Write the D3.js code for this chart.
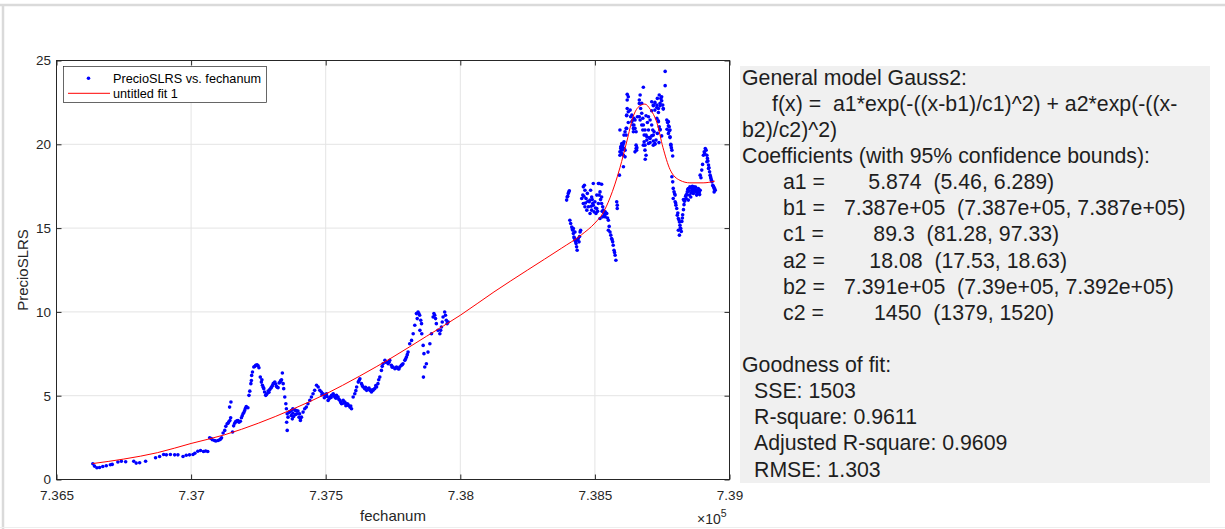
<!DOCTYPE html>
<html><head><meta charset="utf-8">
<script src="https://cdn.jsdelivr.net/npm/d3@7"></script>
<style>
html,body{margin:0;padding:0;background:#fff;}
svg{display:block;font-family:"Liberation Sans",Arial,Helvetica,sans-serif;}
</style></head><body>
<svg id="chart" width="1225" height="529"></svg>
<script>
// ---------------- data ----------------
const xTickValues = [736500, 737000, 737500, 738000, 738500, 739000];
const xTickLabels = ["7.365", "7.37", "7.375", "7.38", "7.385", "7.39"];
const yTickValues = [0, 5, 10, 15, 20, 25];
const yTickLabels = ["0", "5", "10", "15", "20", "25"];

const fechanum = [
  // early, sparse
  736635,736641,736650,736660,736672,736685,736700,736707,736728,736741,
  736757,736787,736796,736809,736831,736868,736883,736898,736908,736923,
  736939,736951,736970,736982,736994,737007,737014,737025,737035,737046,
  737054,737062,
  // first rise
  737069,737079,737087,737100,737106,737113,737119,737125,737129,737134,
  737137,737144,737147,737143,737148,737154,737162,737168,737174,737178,
  737183,737187,737193,737199,737205,737211,737215,737218,737222,737224,
  737225,737228,737233,737240,737249,737252,
  // plateau + drop
  737257,737261,737265,737270,737273,737277,737282,737286,737292,737299,
  737305,737311,737317,737323,737327,737332,737336,737339,737342,737344,
  737348,737352,737354,737357,737360,737355,737357,
  // recovery
  737366,737372,737376,737378,737381,737385,737388,737391,737397,737403,
  737406,737410,737416,737422,737428,737434,737441,737447,737453,737459,
  737466,737472,
  // 7.375 - 7.3795
  737478,737484,737490,737497,737503,737509,737516,737522,737528,737534,
  737540,737546,737553,737559,737565,737571,737578,737584,737590,737596,
  737602,737608,737615,737621,737627,737633,737639,737645,737652,737658,
  737664,737670,737676,737682,737689,737694,737701,737707,737713,737720,
  737726,737732,737738,737744,737750,737757,737763,737769,737775,737781,
  737787,737794,737800,737806,737812,737819,737825,737831,737837,737843,
  737849,737856,737850,737857,737862,737865,737868,737863,737874,737880,
  737887,737893,737899,737905,737911,737917,737924,737930,737936,737942,
  737948,737955,
  // 7.384 - 7.3857
  738395,738397,738401,738405,738407,738410,738414,738418,738420,738420,
  738422,738426,738426,738430,738432,738434,738438,738441,738445,738447,
  738451,738455,738457,738457,738461,738463,738463,738467,738470,738472,
  738476,738479,738482,738482,738484,738488,738488,738492,738494,738494,
  738497,738500,738504,738507,738507,738513,738513,738516,738516,738519,
  738519,738525,738525,738525,738529,738529,738531,738534,738538,738538,
  738544,738550,738550,738556,738559,738562,738566,738568,738571,738575,
  738578,738581,738583,738583,738591,
  // peak
  738593,738596,738600,738600,738603,738606,738608,738612,738593,738616,
  738618,738620,738624,738620,738618,738624,738631,738637,738641,738645,
  738649,738653,738655,738653,738649,738658,738665,738668,738674,738668,
  738674,738678,738683,738680,738686,738690,738687,738680,738690,738695,
  738699,738702,738705,738711,738717,738723,738711,738717,738723,738730,
  738736,738742,738748,738754,738761,738761,738735,738742,738748,738738,
  738767,738773,738776,738779,738782,738786,738789,738768,738786,738789,
  // after peak
  738791,738794,738798,738791,738798,738801,738804,738806,738810,738814,
  738816,738819,738810,738814,738823,738826,738829,738831,738835,738829,
  738839,738843,738847,738853,738860,738863,738868,738872,738876,738881,
  738884,738888,738891,738851,738856,738866,738878,738839,738847,738891,
  738897,738903,738906,738910,738913,738916,738918,738916,738922,738922,
  738926,738928,738931,738935,738938,738941,738943,738947,738943,
  // additional points, peak cloud
  738633,738637,738641,738643,738645,738649,738643,738665,738670,738674,
  738665,738678,738699,738705,738711,738715,738717,738720,738705,738699,
  738693,738711,738717,738723,738730,738732,738736,738742,738739,738745,
  738748,738752,738754,738730,738736,738739,738742,738732,738727,738723,
  738717,738770,738773,738776,738779,738773,738779,738782,738784,738618,
  738624,738620,738593,738596,738600,738603,738606,738608,738600,738606,
  738612,738608,738612,738616,738653,738656,738680,738686,738690,738693,
  738686,738683,
  // additional points, 7.371 - 7.3795
  737364,737372,737378,737388,737393,737401,737406,737486,737495,737505,
  737513,737520,737531,737538,737549,737556,737568,737575,737582,737593,
  737612,737624,737636,737648,737661,737673,737686,737697,737710,737723,
  737735,737747,737760,737772,737784,737797,737803,737840,737846,737853,
  737902,737908,737927,737933,737945,737951,737237,737245,737263,737268,
  737279,737289,737296,737302,737308,737314,737320,737330,737334,737075,
  737092,737110,737140,737158,737165,737171,737190,737196,737202,
  // additional points, 7.384 - 7.3857
  738399,738403,738416,738424,738428,738436,738443,738459,738465,738474,
  738486,738490,738502,738510,738521,738527,738536,738541,738547,738553,
  738564,738573,
  // additional points, after peak
  738796,738800,738808,738812,738817,738821,738825,738833,738837,738841,
  738845,738849,738855,738858,738862,738865,738870,738874,738880,738886,
  738889,738894,738900,738908,738920,738924,738930,738933,738940,738945
];

const precioSLRS = [
  // early, sparse
  0.94,0.80,0.70,0.72,0.78,0.82,0.88,0.90,1.04,1.09,
  1.06,1.09,0.98,1.00,1.09,1.30,1.37,1.49,1.47,1.49,
  1.47,1.47,1.37,1.45,1.47,1.49,1.57,1.69,1.73,1.67,
  1.70,1.67,
  // first rise
  2.49,2.37,2.33,2.33,2.37,2.49,2.77,2.93,3.17,3.33,
  3.36,3.52,3.68,4.32,4.62,2.83,3.36,3.48,3.52,3.42,
  3.48,3.68,3.92,4.12,4.36,4.28,5.02,5.27,5.72,5.91,
  6.21,6.41,6.71,6.81,6.79,6.67,
  // plateau + drop
  6.11,5.81,5.62,5.42,5.22,5.02,5.12,5.28,5.36,5.52,
  5.72,5.81,5.56,5.48,5.76,5.87,5.95,6.35,5.72,5.42,
  4.92,4.52,4.22,3.92,3.72,3.42,2.93,
  // recovery
  4.02,4.12,3.62,4.22,3.76,4.16,3.88,4.12,4.08,3.92,
  3.52,3.72,4.02,4.22,4.32,4.52,4.72,4.92,5.12,5.32,
  5.62,5.52,
  // 7.375 - 7.3795
  5.32,5.22,5.12,5.02,5.12,4.72,4.92,5.02,5.12,4.92,
  5.02,4.92,4.72,4.52,4.72,4.62,4.52,4.42,4.32,4.22,
  4.92,5.12,5.52,5.81,6.01,5.72,5.52,5.42,5.32,5.42,
  5.32,5.22,5.32,5.42,5.52,5.72,6.11,6.51,6.91,7.11,
  7.01,6.91,7.11,6.81,6.71,6.61,6.71,6.61,6.71,6.81,
  6.91,7.11,7.31,7.60,8.10,8.30,8.70,9.20,9.90,9.99,
  9.80,9.30,8.90,8.70,8.00,7.51,6.71,6.11,6.91,7.60,
  8.10,8.70,9.70,9.80,9.30,8.90,8.70,9.10,9.70,9.99,
  9.50,9.40,
  // 7.384 - 7.3857
  16.67,16.86,17.07,17.23,15.47,15.27,15.07,14.87,14.68,14.98,
  14.47,14.28,14.77,14.08,13.88,13.68,14.38,14.18,14.77,14.87,
  16.77,16.97,17.46,16.47,17.56,17.26,16.27,16.77,16.07,17.07,
  16.27,16.57,16.67,15.87,17.26,16.86,16.07,16.47,16.37,17.66,
  15.97,16.57,15.87,16.17,16.97,16.47,17.66,16.97,17.66,17.16,
  15.57,16.86,17.62,16.47,16.27,15.67,16.07,15.87,15.67,15.97,
  15.87,15.47,14.87,14.77,14.58,14.38,14.18,13.98,13.68,13.38,
  13.08,16.57,16.37,16.17,18.16,
  // peak
  19.35,19.85,19.65,20.05,19.95,18.66,19.75,19.25,20.85,20.55,
  20.95,22.64,22.84,22.98,21.70,21.30,22.04,21.74,21.45,21.15,
  20.95,20.75,19.65,19.75,19.55,21.64,22.64,22.94,22.44,21.45,
  21.15,20.85,20.55,19.95,19.65,19.35,19.11,23.40,21.70,21.30,
  20.85,20.40,20.10,20.50,20.20,20.00,22.00,22.30,22.50,22.20,
  21.90,22.30,22.60,22.10,23.50,24.35,21.40,20.90,20.50,20.10,
  21.45,21.10,20.80,20.40,20.00,19.65,19.30,20.90,18.06,17.76,
  // after peak
  17.37,17.17,16.97,16.77,16.57,16.37,16.17,15.77,15.57,15.37,
  15.17,14.98,14.87,14.58,15.40,15.80,16.10,16.40,16.70,16.70,
  16.97,17.16,17.36,17.46,17.26,17.36,17.46,17.36,17.16,17.26,
  17.36,17.16,17.26,16.97,16.86,17.07,16.97,16.77,16.67,18.16,
  18.46,19.35,19.55,19.75,19.65,19.35,19.16,18.96,18.76,18.56,
  18.36,18.16,17.96,17.76,17.56,17.46,17.37,17.26,17.16,
  // additional points, peak cloud
  21.64,21.35,21.15,20.95,21.55,21.45,20.75,22.44,22.14,21.85,
  21.64,21.55,21.64,21.45,21.15,20.85,20.55,20.75,20.35,20.05,
  20.45,22.54,22.34,22.04,22.34,22.74,22.14,22.44,22.94,22.74,
  22.84,22.34,22.14,21.55,21.35,21.05,20.85,20.65,20.25,20.05,
  19.95,21.30,21.35,21.05,20.85,20.65,20.45,19.95,19.80,21.74,
  21.94,22.14,19.55,19.75,19.95,19.85,20.05,20.15,19.45,19.35,
  19.65,20.55,20.75,20.95,19.95,19.80,21.15,20.85,20.55,20.25,
  19.95,20.15,
  // additional points, 7.371 - 7.3795
  4.02,3.82,3.96,4.12,3.92,3.72,3.62,5.05,4.88,4.95,
  4.82,4.90,5.00,4.85,4.78,4.60,4.55,4.40,4.50,4.38,
  5.30,5.90,5.60,5.50,5.45,5.35,5.60,5.95,6.75,7.00,
  7.00,6.70,6.65,6.60,6.85,7.20,7.45,9.60,9.90,9.50,
  9.90,9.60,8.90,9.40,9.80,9.30,6.75,6.85,5.95,5.50,
  5.05,5.20,5.45,5.60,5.75,5.70,5.50,5.80,5.90,2.45,
  2.30,2.42,3.45,3.20,3.45,3.50,3.80,4.00,4.25,
  // additional points, 7.384 - 7.3857
  16.90,17.15,14.95,14.40,14.20,14.30,14.50,16.90,16.50,16.60,
  16.30,16.70,16.20,16.00,16.70,16.00,15.75,15.90,15.60,15.10,
  14.30,13.55,
  // additional points, after peak
  17.05,16.50,15.90,15.50,15.00,14.80,15.60,16.60,16.90,17.00,
  17.30,17.20,17.40,17.10,17.50,17.20,17.25,17.45,17.10,17.30,
  17.00,18.00,18.80,19.45,19.00,18.60,18.05,17.85,17.50,17.35
];

// fitted curve ("untitled fit 1")
const fitFechanum = [736634,736750,736875,737000,737125,737250,737375,737500,737625,737750,
  737875,738000,738125,738250,738375,738450,738500,738530,738556,738593,
  738619,738641,738667,738686,738705,738730,738753,738779,738816,738853,
  738902,738945];
const fitValues = [0.95,1.22,1.60,2.15,2.67,3.36,4.18,5.10,6.16,7.31,
  8.55,9.80,11.19,12.50,13.79,14.60,15.30,15.90,16.80,18.60,
  20.20,21.60,22.30,22.40,22.10,21.30,19.80,18.50,17.85,17.70,
  17.70,17.80];

const legendLabels = ["PrecioSLRS vs. fechanum", "untitled fit 1"];

const headerLines = ["General model Gauss2:", "f(x) =  a1*exp(-((x-b1)/c1)^2) + a2*exp(-((x-", "b2)/c2)^2)", "Coefficients (with 95% confidence bounds):"];
const coefNames = ["a1 =", "b1 =", "c1 =", "a2 =", "b2 =", "c2 ="];
const coefValues = ["5.874", "7.387e+05", "89.3", "18.08", "7.391e+05", "1450"];
const coefBounds = ["(5.46, 6.289)", "(7.387e+05, 7.387e+05)", "(81.28, 97.33)", "(17.53, 18.63)", "(7.39e+05, 7.392e+05)", "(1379, 1520)"];
const gofTitle = "Goodness of fit:";
const gofLines = ["SSE: 1503", "R-square: 0.9611", "Adjusted R-square: 0.9609", "RMSE: 1.303"];

// ---------------- drawing ----------------
if (fechanum.length !== precioSLRS.length) console.error("length mismatch", fechanum.length, precioSLRS.length);
const svg = d3.select("#chart");
const axisColor = "#262626";

// page frame
svg.append("line").attr("x1", 0).attr("x2", 1225).attr("y1", 5).attr("y2", 5)
  .attr("stroke", "#dadada").attr("stroke-width", 2.5);
svg.append("line").attr("x1", 3).attr("x2", 3).attr("y1", 4).attr("y2", 529)
  .attr("stroke", "#dadada").attr("stroke-width", 2.5);
svg.append("line").attr("x1", 0).attr("x2", 1225).attr("y1", 527.5).attr("y2", 527.5)
  .attr("stroke", "#eeeeee").attr("stroke-width", 1);

const L = 56.5, R = 729.5, T = 60.5, B = 479.5;
const x = d3.scaleLinear().domain([736500, 739000]).range([L, R]);
const y = d3.scaleLinear().domain([0, 25]).range([B, T]);

// grid
const grid = svg.append("g");
grid.selectAll("line.gx").data(xTickValues.slice(1, -1)).join("line")
  .attr("x1", d => x(d)).attr("x2", d => x(d)).attr("y1", T).attr("y2", B)
  .attr("stroke", "#e4e4e4").attr("stroke-width", 1);
grid.selectAll("line.gy").data(yTickValues.slice(1, -1)).join("line")
  .attr("x1", L).attr("x2", R).attr("y1", d => y(d)).attr("y2", d => y(d))
  .attr("stroke", "#e4e4e4").attr("stroke-width", 1);

// axes
const fmtX = d => xTickLabels[xTickValues.indexOf(d)];
const fmtY = d => yTickLabels[yTickValues.indexOf(d)];
function styleAxis(g) {
  g.select(".domain").remove();
  g.selectAll(".tick line").attr("stroke", axisColor);
  g.selectAll(".tick text").attr("fill", axisColor).attr("font-size", "13.5px")
    .attr("font-family", '"Liberation Sans", Arial, sans-serif');
}
svg.append("g").attr("transform", `translate(0,${B})`)
  .call(d3.axisBottom(x).tickValues(xTickValues).tickFormat(fmtX).tickSizeInner(-5).tickSizeOuter(0).tickPadding(10.5))
  .call(styleAxis);
svg.append("g").attr("transform", `translate(0,${T})`)
  .call(d3.axisTop(x).tickValues(xTickValues).tickFormat("").tickSizeInner(-5).tickSizeOuter(0))
  .call(styleAxis);
svg.append("g").attr("transform", `translate(${L},0)`)
  .call(d3.axisLeft(y).tickValues(yTickValues).tickFormat(fmtY).tickSizeInner(-5).tickSizeOuter(0).tickPadding(5.5))
  .call(styleAxis);
svg.append("g").attr("transform", `translate(${R},0)`)
  .call(d3.axisRight(y).tickValues(yTickValues).tickFormat("").tickSizeInner(-5).tickSizeOuter(0))
  .call(styleAxis);

// box
svg.append("rect").attr("x", L).attr("y", T).attr("width", R - L).attr("height", B - T)
  .attr("fill", "none").attr("stroke", axisColor).attr("stroke-width", 1);

// axis labels
svg.append("text").attr("x", (L + R) / 2).attr("y", 521).attr("text-anchor", "middle")
  .attr("font-size", "15px").attr("fill", axisColor).text("fechanum");
const exp = svg.append("text").attr("x", 697).attr("y", 523.5).attr("font-size", "14px").attr("fill", axisColor);
exp.append("tspan").text("\u00d710");
exp.append("tspan").attr("dy", -6.5).attr("font-size", "10.5px").text("5");
svg.append("text").attr("transform", `translate(28,${(T + B) / 2}) rotate(-90)`)
  .attr("text-anchor", "middle").attr("font-size", "15px").attr("fill", axisColor).text("PrecioSLRS");

// data
svg.append("defs").append("clipPath").attr("id", "clip")
  .append("rect").attr("x", L).attr("y", T).attr("width", R - L).attr("height", B - T);
const plot = svg.append("g").attr("clip-path", "url(#clip)");
const pts = fechanum.map((f, i) => [f, precioSLRS[i]]);
plot.selectAll("circle.pt").data(pts).join("circle")
  .attr("cx", d => x(d[0])).attr("cy", d => y(d[1])).attr("r", 1.8).attr("fill", "#0000ff");

const fitPts = fitFechanum.map((f, i) => [f, fitValues[i]]);
plot.append("path").datum(fitPts)
  .attr("d", d3.line().x(d => x(d[0])).y(d => y(d[1])).curve(d3.curveMonotoneX))
  .attr("fill", "none").attr("stroke", "#ff0000").attr("stroke-width", 1);

// legend
const lg = svg.append("g");
lg.append("rect").attr("x", 63.5).attr("y", 66.5).attr("width", 203).attr("height", 36)
  .attr("fill", "#fff").attr("stroke", axisColor).attr("stroke-width", 0.7);
lg.append("circle").attr("cx", 88.5).attr("cy", 78.3).attr("r", 1.8).attr("fill", "#0000ff");
lg.append("line").attr("x1", 68).attr("x2", 110).attr("y1", 93.3).attr("y2", 93.3)
  .attr("stroke", "#ff0000").attr("stroke-width", 1);
lg.selectAll("text").data(legendLabels).join("text")
  .attr("x", 113).attr("y", (d, i) => 82.8 + i * 15).attr("font-size", "12.7px").attr("fill", "#000").text(d => d);

// results panel
svg.append("rect").attr("x", 740).attr("y", 66).attr("width", 470).attr("height", 417).attr("fill", "#f0f0f0");
const panel = svg.append("g").attr("font-size", "21.3px").attr("fill", "#1e1e1e");
const base0 = 84.6, lh = 26.13;
const headerX = [742, 772, 742, 742];
headerLines.forEach((t, i) => {
  panel.append("text").attr("x", headerX[i]).attr("y", base0 + i * lh)
    .style("white-space", "pre").text(t);
});
const valueX = [868.3, 844, 873.3, 869.3, 844, 874];
coefNames.forEach((n, i) => {
  const yy = base0 + (4 + i) * lh;
  panel.append("text").attr("x", 783).attr("y", yy).text(n);
  panel.append("text").attr("x", valueX[i]).attr("y", yy).style("white-space", "pre")
    .text(coefValues[i] + "  " + coefBounds[i]);
});
panel.append("text").attr("x", 742).attr("y", base0 + 11 * lh).text(gofTitle);
gofLines.forEach((t, i) => {
  panel.append("text").attr("x", 754).attr("y", base0 + (12 + i) * lh).text(t);
});
</script>
</body></html>
